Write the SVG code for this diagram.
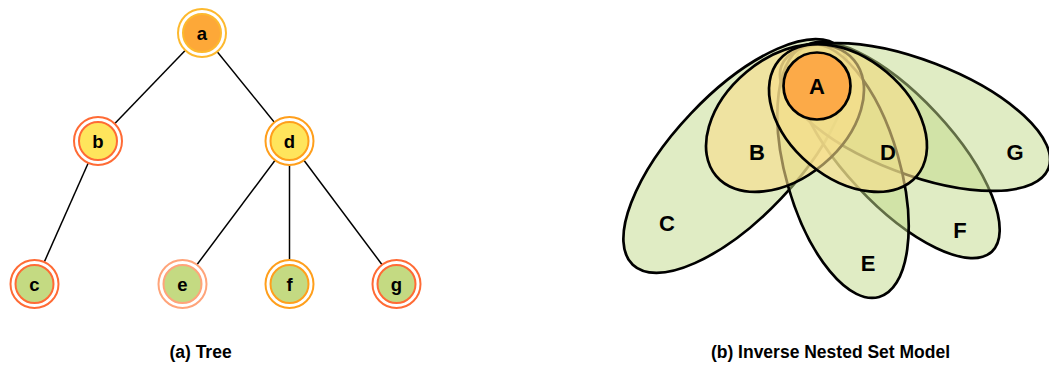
<svg xmlns="http://www.w3.org/2000/svg" width="1049" height="365" viewBox="0 0 1049 365">
<style>
.lbl{font-family:"Liberation Sans",Arial,sans-serif;font-weight:bold;fill:#000;text-anchor:middle}
.t{font-size:18.5px}
.v{font-size:22px}
.cap{font-size:17.5px}
.edge{stroke:#000;stroke-width:1.5;fill:none}
.ring{fill:#fff;stroke-width:2}
.inner{stroke-width:2}
.set{stroke:#000;stroke-width:2.7}
.green{fill:#C2D98A;fill-opacity:0.5}
.yel{fill:#F9DE8B;fill-opacity:0.6}
</style>
<rect width="1049" height="365" fill="#fff"/>
<g id="connectors">
<line class="edge" x1="202" y1="33" x2="98" y2="141"/>
<line class="edge" x1="202" y1="33" x2="289.5" y2="141"/>
<line class="edge" x1="98" y1="141" x2="34.5" y2="284"/>
<line class="edge" x1="289.5" y1="141" x2="182.5" y2="284"/>
<line class="edge" x1="289.5" y1="141" x2="289.5" y2="284"/>
<line class="edge" x1="289.5" y1="141" x2="396.5" y2="284"/>
</g>
<g id="node-a"><circle class="ring" cx="202" cy="33" r="24" stroke="#FDB92E"/><circle class="inner" cx="202" cy="33" r="19" fill="#FDA838" stroke="#FDB92E"/><text class="lbl t" x="202" y="39.5">a</text></g>
<g id="node-b"><circle class="ring" cx="98" cy="141" r="24" stroke="#FF6B35"/><circle class="inner" cx="98" cy="141" r="19" fill="#FFE55C" stroke="#FF6B35"/><text class="lbl t" x="98" y="147.5">b</text></g>
<g id="node-d"><circle class="ring" cx="289.5" cy="141" r="24" stroke="#FF9F1C"/><circle class="inner" cx="289.5" cy="141" r="19" fill="#FFE55C" stroke="#FF9F1C"/><text class="lbl t" x="289.5" y="147.5">d</text></g>
<g id="node-c"><circle class="ring" cx="34.5" cy="284" r="24" stroke="#FF6B35"/><circle class="inner" cx="34.5" cy="284" r="19" fill="#C4DA82" stroke="#FF6B35"/><text class="lbl t" x="34.5" y="290.5">c</text></g>
<g id="node-e"><circle class="ring" cx="182.5" cy="284" r="24" stroke="#FFA47A"/><circle class="inner" cx="182.5" cy="284" r="19" fill="#C4DA82" stroke="#FFA47A"/><text class="lbl t" x="182.5" y="290.5">e</text></g>
<g id="node-f"><circle class="ring" cx="289.5" cy="284" r="24" stroke="#FF9F1C"/><circle class="inner" cx="289.5" cy="284" r="19" fill="#C4DA82" stroke="#FF9F1C"/><text class="lbl t" x="289.5" y="290.5">f</text></g>
<g id="node-g"><circle class="ring" cx="396.5" cy="284" r="24" stroke="#FF6B35"/><circle class="inner" cx="396.5" cy="284" r="19" fill="#C4DA82" stroke="#FF6B35"/><text class="lbl t" x="396.5" y="290.5">g</text></g>
<g id="set-C"><ellipse class="set green" cx="736" cy="156" rx="150" ry="62" transform="rotate(-46.5 736 156)"/></g>
<g id="set-F"><ellipse class="set green" cx="897" cy="150" rx="139" ry="54" transform="rotate(47 897 150)"/></g>
<g id="set-G"><ellipse class="set green" cx="915" cy="117" rx="143" ry="57" transform="rotate(21 915 117)"/></g>
<g id="set-E"><ellipse class="set green" cx="843" cy="171" rx="131" ry="57" transform="rotate(74 843 171)"/></g>
<g id="set-B"><ellipse class="set yel" cx="785" cy="118" rx="90" ry="60" transform="rotate(-40 785 118)"/></g>
<g id="set-D"><ellipse class="set yel" cx="848" cy="118" rx="90" ry="60" transform="rotate(40 848 118)"/></g>
<g id="set-A"><circle class="set" cx="817" cy="86" r="33.5" fill="#FCAA48"/></g>
<g id="set-labels">
<text class="lbl v" x="817" y="94">A</text>
<text class="lbl v" x="757" y="160">B</text>
<text class="lbl v" x="888" y="160">D</text>
<text class="lbl v" x="1015" y="160">G</text>
<text class="lbl v" x="667" y="231">C</text>
<text class="lbl v" x="868" y="271">E</text>
<text class="lbl v" x="960" y="238">F</text>
</g>
<text class="lbl cap" x="200.5" y="358">(a) Tree</text>
<text class="lbl cap" x="830.5" y="358">(b) Inverse Nested Set Model</text>
</svg>
